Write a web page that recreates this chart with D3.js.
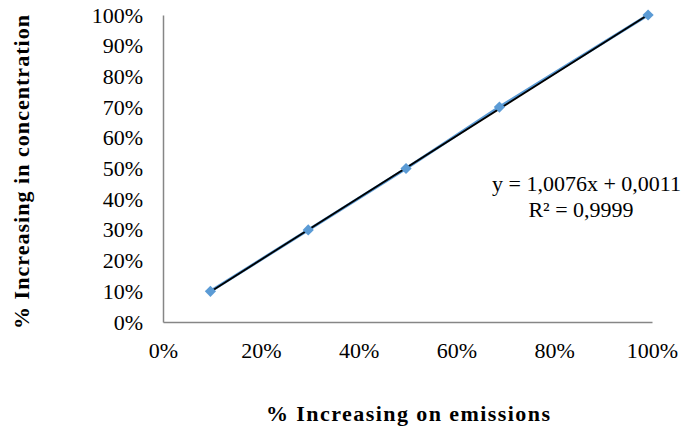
<!DOCTYPE html>
<html><head><meta charset="utf-8">
<script src="https://cdn.jsdelivr.net/npm/d3@7"></script>
<style>body{margin:0;background:#fff}svg{display:block}text{font-family:"Liberation Serif","Times New Roman",serif}</style>
</head><body><svg id="c" width="685" height="431"></svg>
<script>
const xValues = [0.097, 0.297, 0.497, 0.688, 0.992];
const yValues = [0.10, 0.30, 0.50, 0.70, 1.00];
const xTicks = [0, 0.2, 0.4, 0.6, 0.8, 1.0];
const yTicks = [0, 0.1, 0.2, 0.3, 0.4, 0.5, 0.6, 0.7, 0.8, 0.9, 1.0];
const trendSlope = 1.0076, trendIntercept = 0.0011;
const equationText = "y = 1,0076x + 0,0011";
const r2Text = "R² = 0,9999";
const xTitle = "% Increasing on emissions";
const yTitle = "% Increasing in concentration";

const svg = d3.select("#c");
const x = d3.scaleLinear().domain([0,1]).range([163,652]);
const y = d3.scaleLinear().domain([0,1]).range([322,15]);
const fmt = d => Math.round(d*100) + "%";

// axes
const xa = svg.append("g").attr("transform","translate(0,322)")
  .call(d3.axisBottom(x).tickValues(xTicks).tickFormat(fmt).tickSize(0).tickPadding(20));
const ya = svg.append("g").attr("transform","translate(163,0)")
  .call(d3.axisLeft(y).tickValues(yTicks).tickFormat(fmt).tickSize(0).tickPadding(20));
[xa,ya].forEach(a=>{
  a.attr("font-family","Liberation Serif").attr("font-size",22);
  a.select(".domain").attr("stroke","#868686").attr("stroke-width",1.5);
  a.selectAll("text").attr("fill","#000");
});
xa.selectAll("text").attr("y",36).attr("dy",0);

// series line
const line = d3.line().x((d,i)=>x(xValues[i])).y(d=>y(d));
svg.append("path").datum(yValues).attr("d",line).attr("fill","none")
  .attr("stroke","#5B9BD5").attr("stroke-width",3);

// trendline
const tx = d3.extent(xValues);
svg.append("line")
  .attr("x1",x(tx[0])).attr("y1",y(trendSlope*tx[0]+trendIntercept))
  .attr("x2",x(tx[1])).attr("y2",y(trendSlope*tx[1]+trendIntercept))
  .attr("stroke","#000").attr("stroke-width",1.8);

// markers
svg.selectAll("path.m").data(yValues).enter().append("path").attr("class","m")
  .attr("d",d3.symbol().type(d3.symbolDiamond2).size(80))
  .attr("transform",(d,i)=>`translate(${x(xValues[i])},${y(d)})`)
  .attr("fill","#5B9BD5");

// equation
svg.append("text").attr("x",681).attr("y",191).attr("text-anchor","end")
  .attr("font-size",22).text(equationText);
svg.append("text").attr("x",581).attr("y",217).attr("text-anchor","middle")
  .attr("font-size",22).text(r2Text);

// titles
svg.append("text").attr("x",408).attr("y",421).attr("text-anchor","middle")
  .attr("font-size",22).attr("font-weight","bold")
  .attr("textLength",284).attr("lengthAdjust","spacing").text(xTitle);
svg.append("text").attr("transform","translate(29,172) rotate(-90)").attr("text-anchor","middle")
  .attr("font-size",22).attr("font-weight","bold")
  .attr("textLength",314).attr("lengthAdjust","spacing").text(yTitle);
</script></body></html>
